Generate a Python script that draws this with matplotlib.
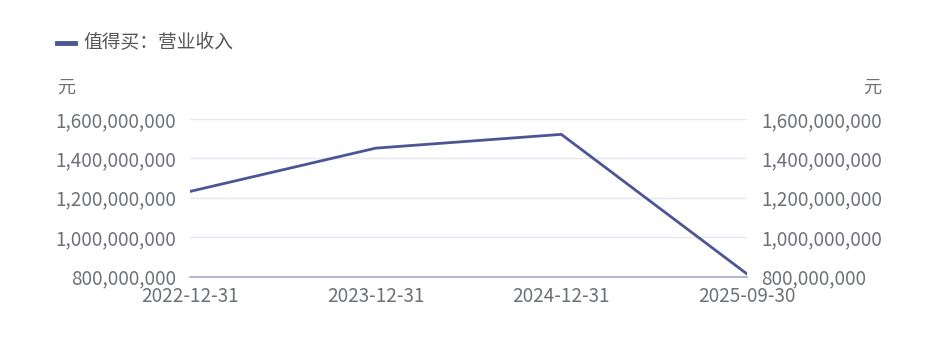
import matplotlib
matplotlib.use('Agg')
import matplotlib.pyplot as plt
from matplotlib.ticker import FuncFormatter

plt.rcParams['font.family'] = ['Noto Sans CJK SC', 'DejaVu Sans']

dates = ['2022-12-31', '2023-12-31', '2024-12-31', '2025-09-30']
revenue = [1232000000, 1452000000, 1522000000, 813000000]
yticks = [800000000, 1000000000, 1200000000, 1400000000, 1600000000]
series_name = '值得买：营业收入'
unit = '元'

line_color = '#4e5595'
text_color = '#6e7079'
fs = 13.6

fig = plt.figure(figsize=(9.37, 3.39), dpi=100)
W, H = 937, 339
ax = fig.add_axes([190 / W, 1 - 276.5 / H, (747 - 190) / W, (276.5 - 119) / H])

x = range(len(dates))
ax.plot(x, revenue, color=line_color, lw=2, solid_joinstyle='miter')
ax.set_xlim(0, len(dates) - 1)
ax.set_ylim(yticks[0], yticks[-1])
ax.set_yticks(yticks)
ax.set_xticks(list(x))
ax.set_xticklabels(dates)
fmt = FuncFormatter(lambda v, p: f'{int(v):,}')
ax.yaxis.set_major_formatter(fmt)

for s in ['top', 'right', 'left']:
    ax.spines[s].set_visible(False)
ax.spines['bottom'].set_color('#a9abc8')
ax.spines['bottom'].set_linewidth(1.2)
ax.grid(axis='y', color='#e6e7f0', lw=1)
ax.set_axisbelow(True)
ax.tick_params(axis='both', length=0, labelsize=fs, labelcolor=text_color)
ax.tick_params(axis='y', pad=10)
ax.tick_params(axis='x', pad=7)

ax2 = ax.twinx()
ax2.set_ylim(ax.get_ylim())
ax2.set_yticks(yticks)
ax2.yaxis.set_major_formatter(fmt)
for s in ax2.spines.values():
    s.set_visible(False)
ax2.tick_params(axis='y', length=0, labelsize=fs, labelcolor=text_color, pad=10)

fig.text(57 / W, 1 - 88 / H, unit, fontsize=13, color=text_color, va='center', ha='left')
fig.text(881 / W, 1 - 88 / H, unit, fontsize=13, color=text_color, va='center', ha='right')

# legend
fig.add_artist(plt.Line2D([57 / W, 75 / W], [1 - 43 / H, 1 - 43 / H], color=line_color, lw=3.5))
fig.text(83 / W, 1 - 43 / H, series_name, fontsize=13.5, color='#555555', va='center', ha='left')

fig.savefig('out.png', dpi=100)
